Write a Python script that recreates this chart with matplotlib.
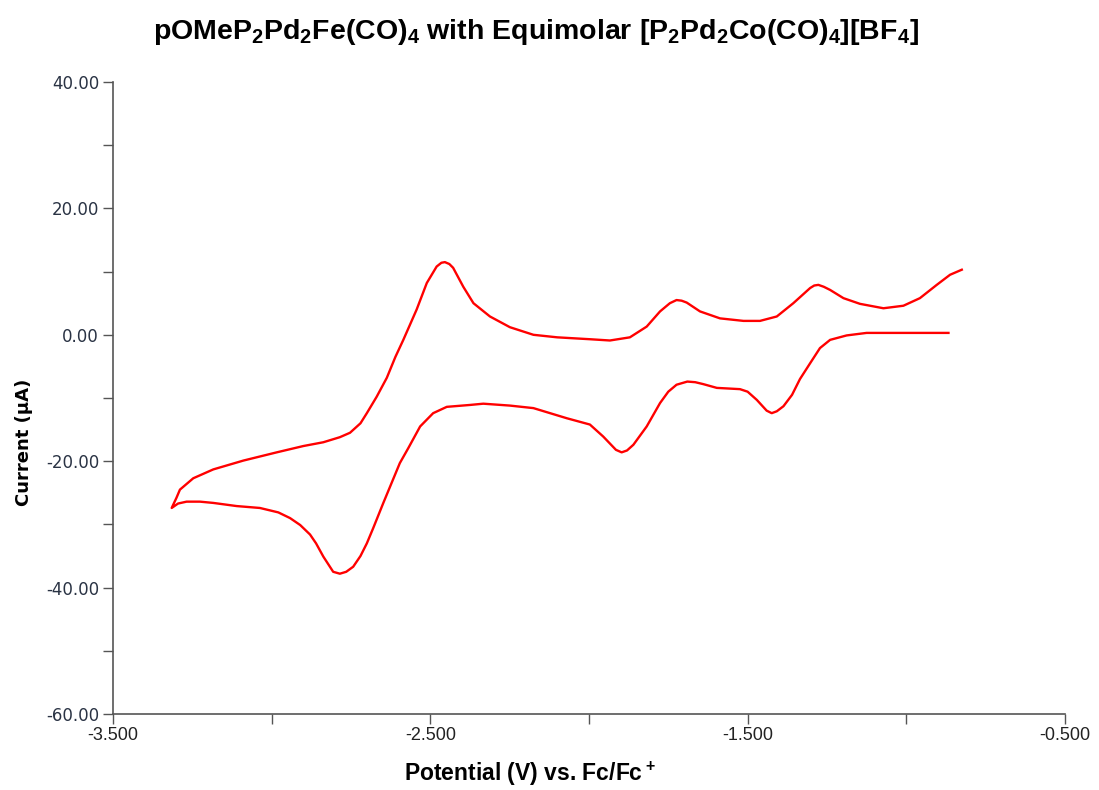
import matplotlib.pyplot as plt
from matplotlib.ticker import MultipleLocator, FormatStrFormatter

# forward scan: from the rest potential towards negative potential
fwd_v = [-0.867, -1.000, -1.125, -1.188, -1.240, -1.272, -1.303, -1.335, -1.360,
         -1.387, -1.408, -1.424, -1.440, -1.471, -1.500, -1.524, -1.560, -1.597,
         -1.640, -1.665, -1.690, -1.724, -1.750, -1.776, -1.818, -1.860, -1.880,
         -1.897, -1.915, -1.955, -1.997, -2.070, -2.175, -2.249, -2.333, -2.375,
         -2.448, -2.491, -2.532, -2.569, -2.596, -2.648, -2.680, -2.700, -2.720,
         -2.743, -2.765, -2.785, -2.806, -2.837, -2.860, -2.879, -2.910, -2.942,
         -2.979, -3.037, -3.110, -3.184, -3.226, -3.268, -3.295, -3.315]
fwd_i = [0.3, 0.3, 0.3, -0.1, -0.8, -2.1, -4.5, -7.0, -9.5,
         -11.3, -12.1, -12.4, -12.0, -10.3, -9.0, -8.6, -8.5, -8.4,
         -7.8, -7.5, -7.4, -7.9, -9.0, -10.8, -14.5, -17.4, -18.3,
         -18.6, -18.2, -16.1, -14.2, -13.2, -11.6, -11.2, -10.9, -11.1,
         -11.4, -12.4, -14.5, -17.9, -20.3, -26.6, -30.6, -33.0, -35.0,
         -36.7, -37.5, -37.8, -37.5, -35.1, -33.0, -31.6, -30.1, -29.0,
         -28.1, -27.4, -27.1, -26.6, -26.4, -26.4, -26.7, -27.4]

# reverse scan: back towards positive potential
rev_v = [-3.315, -3.300, -3.289, -3.247, -3.184, -3.089, -2.984, -2.900, -2.837,
         -2.785, -2.753, -2.720, -2.700, -2.669, -2.637, -2.610, -2.585, -2.543,
         -2.511, -2.480, -2.465, -2.454, -2.440, -2.428, -2.396, -2.364, -2.312,
         -2.249, -2.175, -2.100, -1.997, -1.934, -1.871, -1.818, -1.776, -1.745,
         -1.724, -1.708, -1.692, -1.650, -1.587, -1.513, -1.461, -1.408, -1.356,
         -1.303, -1.290, -1.277, -1.260, -1.240, -1.198, -1.146, -1.072, -1.009,
         -0.957, -0.904, -0.862, -0.825]
rev_i = [-27.4, -25.8, -24.5, -22.7, -21.3, -19.9, -18.6, -17.6, -17.0,
         -16.2, -15.5, -14.0, -12.4, -9.8, -6.8, -3.5, -0.8, 4.0,
         8.2, 10.8, 11.4, 11.5, 11.2, 10.6, 7.6, 5.0, 2.9,
         1.2, 0.0, -0.4, -0.7, -0.9, -0.4, 1.3, 3.7, 5.0,
         5.5, 5.4, 5.1, 3.7, 2.6, 2.2, 2.2, 2.9, 5.0,
         7.4, 7.8, 7.9, 7.6, 7.1, 5.8, 4.9, 4.2, 4.6,
         5.8, 7.9, 9.5, 10.3]

title = (r"pOMeP$_2$Pd$_2$Fe(CO)$_4$ with Equimolar "
         r"[P$_2$Pd$_2$Co(CO)$_4$][BF$_4$]")
xlabel = r"Potential (V) vs. Fc/Fc$^+$"
ylabel = "Current (µA)"

sans = ['Liberation Sans', 'DejaVu Sans']
plt.rcParams['mathtext.fontset'] = 'custom'
plt.rcParams['mathtext.rm'] = 'Liberation Sans:bold'
plt.rcParams['mathtext.default'] = 'rm'

fig = plt.figure(figsize=(10.99, 7.90), dpi=100)
ax = fig.add_axes([0.1028, 0.0962, 0.8662, 0.8])

ax.plot(fwd_v + rev_v, fwd_i + rev_i, color='#ff0000', lw=1.7)

ax.set_xlim(-3.5, -0.5)
ax.set_ylim(-60, 40)
ax.xaxis.set_major_locator(MultipleLocator(1.0, offset=0.5))
ax.xaxis.set_minor_locator(MultipleLocator(0.5))
ax.yaxis.set_major_locator(MultipleLocator(20))
ax.yaxis.set_minor_locator(MultipleLocator(10))
ax.xaxis.set_major_formatter(FormatStrFormatter('%.3f'))
ax.yaxis.set_major_formatter(FormatStrFormatter('%.2f'))

for s in ['top', 'right']:
    ax.spines[s].set_visible(False)
for s in ['left', 'bottom']:
    ax.spines[s].set_color('#555555')
    ax.spines[s].set_linewidth(1.2)

ax.tick_params(which='both', direction='out', length=7, width=1, color='#555555')
ax.tick_params(axis='y', labelsize=12, labelcolor='#2a3344', pad=3)
ax.tick_params(axis='x', labelsize=13, labelcolor='#222222', pad=2)
for lab in ax.get_xticklabels():
    lab.set_family(sans)

fig.text(0.488, 0.960, title, ha='center', va='center', fontsize=20.5,
         fontweight='bold', family=sans)
fig.text(0.482, 0.020, xlabel, ha='center', va='center', fontsize=16.5,
         fontweight='bold', family=sans)
fig.text(0.022, 0.44, ylabel, ha='center', va='center', rotation=90,
         fontsize=13, fontweight='bold', family='DejaVu Sans')

fig.savefig('out.png', dpi=100)
